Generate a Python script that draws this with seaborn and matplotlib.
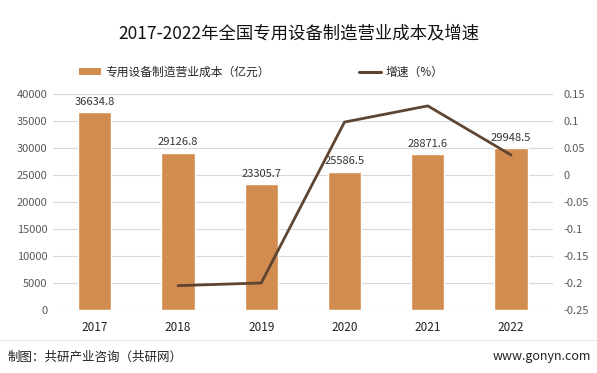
import matplotlib
matplotlib.use("Agg")
import matplotlib.pyplot as plt
import matplotlib.ticker as mticker
from matplotlib.lines import Line2D
from matplotlib.patches import Patch
import numpy as np
import pandas as pd
import seaborn as sns

years = ["2017", "2018", "2019", "2020", "2021", "2022"]
cost = [36634.8, 29126.8, 23305.7, 25586.5, 28871.6, 29948.5]
growth = [np.nan, -0.205, -0.200, 0.098, 0.128, 0.037]

BAR_COLOR = "#D38C4F"
LINE_COLOR = "#5E4532"
TICK_COLOR = "#595959"

sns.set_style("white")
plt.rcParams["font.family"] = ["Noto Sans CJK SC", "DejaVu Sans"]

df = pd.DataFrame({"year": years, "cost": cost, "growth": growth})
df["pos"] = np.arange(len(df))

fig = plt.figure(figsize=(5.97, 3.73), dpi=100)
ax = fig.add_axes([0.0888, 0.169, 0.837, 0.579])

sns.barplot(data=df, x="year", y="cost", color=BAR_COLOR, width=0.4, saturation=1, ax=ax)
ax.set_ylim(0, 40000)
ax.set_yticks(np.arange(0, 40001, 5000))
ax.set_xlim(-0.5, len(years) - 0.5)
ax.grid(axis="y", color="#D9D9D9", linewidth=0.8)
ax.set_axisbelow(True)
ax.set_xlabel("")
ax.set_ylabel("")
ax.tick_params(axis="y", colors=TICK_COLOR, labelsize=8, length=0, pad=4)
ax.tick_params(axis="x", colors="#222222", labelsize=8.5, length=0, pad=8)
for s in ax.spines.values():
    s.set_visible(False)

for i, v in enumerate(cost):
    ax.text(i, v + 1000, f"{v}", ha="center", va="bottom", fontsize=8, color="#333333")


def fmt_growth(v, p):
    v = round(v, 2)
    if v == 0:
        return "0"
    return f"{v:g}"


ax2 = ax.twinx()
sns.lineplot(data=df, x="pos", y="growth", color=LINE_COLOR, linewidth=2, ax=ax2)
ax2.set_ylim(-0.25, 0.15)
ax2.set_yticks(np.arange(-0.25, 0.1501, 0.05))
ax2.yaxis.set_major_formatter(mticker.FuncFormatter(fmt_growth))
ax2.set_ylabel("")
ax2.set_xlabel("")
ax2.tick_params(axis="y", colors=TICK_COLOR, labelsize=8, length=0, pad=8)
for s in ax2.spines.values():
    s.set_visible(False)

fig.text(0.5, 0.91, "2017-2022年全国专用设备制造营业成本及增速", ha="center", va="center",
         fontsize=12.5, color="#111111")

handles = [Patch(facecolor=BAR_COLOR, edgecolor="none"),
           Line2D([0], [0], color=LINE_COLOR, linewidth=2.2)]
fig.legend(handles, ["专用设备制造营业成本（亿元）", "增速（%）"], loc="center",
           bbox_to_anchor=(0.437, 0.807), ncol=2, frameon=False, fontsize=8.5,
           columnspacing=7.6, handlelength=1.9, handleheight=0.5, handletextpad=0.3)

fig.add_artist(Line2D([0.0, 1.0], [0.088, 0.088], color="#E6E6E6", linewidth=0.8,
                      transform=fig.transFigure))
fig.text(0.012, 0.043, "制图：共研产业咨询（共研网）", ha="left", va="center", fontsize=9, color="#222222")
fig.text(0.99, 0.043, "www.gonyn.com", ha="right", va="center", fontsize=9, color="#222222")

fig.savefig("out.png", dpi=100)
